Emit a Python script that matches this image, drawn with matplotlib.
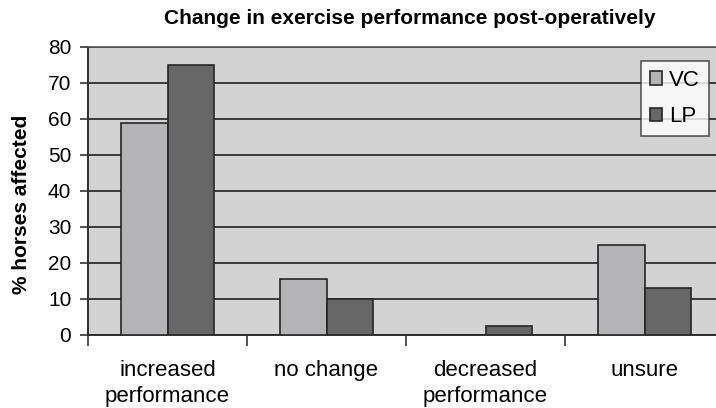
import numpy as np
import matplotlib.pyplot as plt

plt.rcParams['font.family'] = ['Liberation Sans', 'DejaVu Sans']

# data
categories = ['increased\nperformance', 'no change', 'decreased\nperformance', 'unsure']
vc = [59, 15.5, 0, 25]
lp = [75, 10, 2.6, 13]
yticks = [0, 10, 20, 30, 40, 50, 60, 70, 80]

fig = plt.figure(figsize=(7.16, 4.08), dpi=100)
# plot area runs past the right edge as in the original crop
ax = fig.add_axes([88/716, 73/408, 636/716, 288/408])
ax.set_facecolor('#d3d3d4')

x = np.arange(len(categories))
w = 0.29
ax.bar(x - w/2, vc, w, color='#b4b4b6', edgecolor='#262626', linewidth=1.2, label='VC', zorder=3)
ax.bar(x + w/2, lp, w, color='#676767', edgecolor='#262626', linewidth=1.2, label='LP', zorder=3)

ax.set_ylim(0, 80)
ax.set_xlim(-0.5, len(categories) - 0.5)
ax.set_yticks(yticks)
ax.tick_params(axis='y', direction='out', length=6, width=1.2, color='#333333',
               labelsize=15, pad=6)
ax.yaxis.grid(True, color='#2e2e2e', linewidth=1.3, zorder=1)
ax.set_axisbelow(True)

# category boundaries as major ticks, names as minor ticks
ax.set_xticks(np.arange(len(categories)) - 0.5)
ax.set_xticklabels([])
ax.tick_params(axis='x', which='major', direction='out', length=8, width=1.2, color='#333333')
ax.set_xticks(x, minor=True)
ax.set_xticklabels(categories, minor=True, fontsize=16, linespacing=1.3)
ax.tick_params(axis='x', which='minor', length=0, pad=18)

for s in ['left', 'bottom']:
    ax.spines[s].set_color('#2e2e2e')
    ax.spines[s].set_linewidth(1.4)
ax.spines['top'].set_color('#555555')
ax.spines['top'].set_linewidth(1.2)
ax.spines['right'].set_visible(False)

ax.set_ylabel('% horses affected', fontsize=15, fontweight='bold')
ax.yaxis.set_label_coords(22/716, 0.5, transform=fig.transFigure)
ax.yaxis.label.set_verticalalignment('center')
fig.text(410/716, 1 - 18/408, 'Change in exercise performance post-operatively',
         ha='center', va='center', fontsize=15, fontweight='bold')

leg = ax.legend(loc='upper left', fontsize=16, frameon=True, fancybox=False,
                handlelength=0.55, handleheight=0.55, handletextpad=0.3, borderpad=0.4,
                labelspacing=0.7, borderaxespad=0)
leg.get_frame().set_edgecolor('#333333')
leg.get_frame().set_linewidth(1.2)
leg.set_bbox_to_anchor((641/716, 1 - 61/408), transform=fig.transFigure)

fig.savefig('out.png', dpi=100)
